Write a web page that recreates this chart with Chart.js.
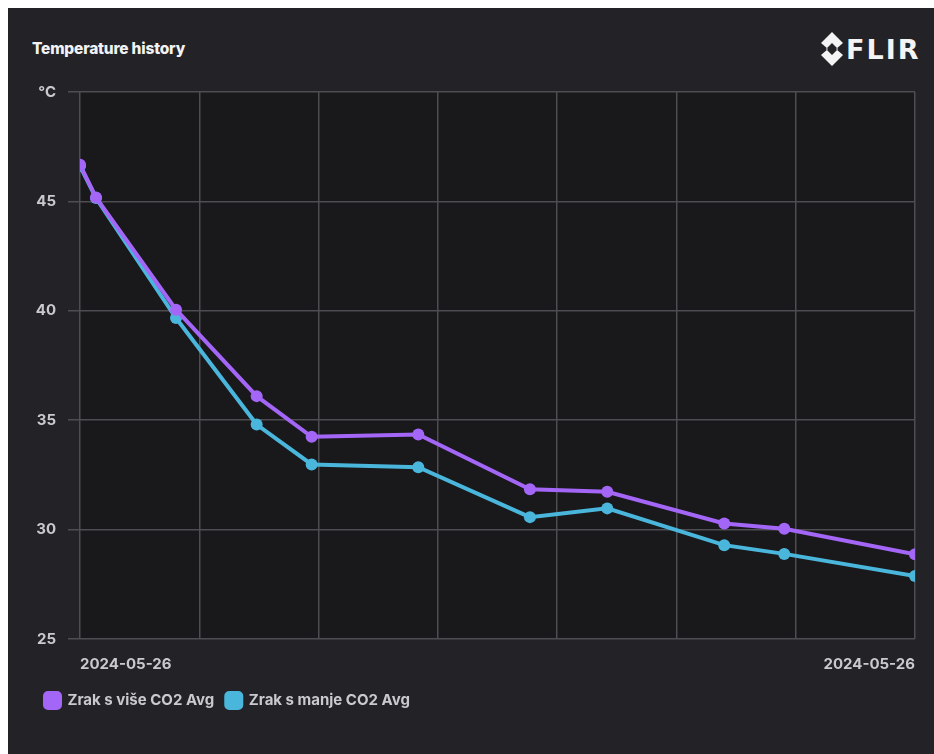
<!DOCTYPE html>
<html>
<head>
<meta charset="utf-8">
<script src="https://cdn.jsdelivr.net/npm/chart.js@4/dist/chart.umd.min.js"></script>
<style>
  html, body { margin: 0; padding: 0; background: #ffffff; width: 934px; height: 754px; overflow: hidden; }
  #card { position: absolute; left: 8px; top: 8px; width: 926px; height: 746px; background: #232327; }
  #title { position: absolute; left: 24px; top: 31px; color: #f2f2f4; font: 800 15.5px Inter, sans-serif; letter-spacing: -0.2px; }
  #logo { position: absolute; left: 813px; top: 23px; height: 36px; display: flex; align-items: center; }
  #logo span { color: #f4f4f4; font: 700 27px "DejaVu Sans", sans-serif; letter-spacing: 2px; margin-left: 3px; }
  #wrap { position: absolute; left: 0; top: 0; width: 926px; height: 746px; }
</style>
</head>
<body>
<div id="card">
  <div id="title">Temperature history</div>
  <div id="logo">
    <svg width="22" height="34" viewBox="0 0 22 34">
      <path d="M11 0 L22 11 L15 17 L22 23 L11 34 L0 23 L7 17 L0 11 Z M11 11 L5 17 L11 23 L17 17 Z" fill="#f4f4f4" fill-rule="evenodd"/>
    </svg>
    <span>FLIR</span>
  </div>
  <div id="wrap"><canvas id="c" width="926" height="746"></canvas></div>
</div>
<script>
// hours since first sample (all on 2024-05-26)
const hoursFromStart = [0, 0.134, 0.805, 1.481, 1.942, 2.836, 3.772, 4.420, 5.401, 5.904, 7];
const moreCO2 = [46.68, 45.18, 40.05, 36.10, 34.24, 34.35, 31.84, 31.73, 30.28, 30.04, 28.87];
const lessCO2 = [46.62, 45.15, 39.67, 34.80, 32.98, 32.85, 30.57, 30.97, 29.29, 28.89, 27.88];
const seriesNames = ["Zrak s više CO2 Avg", "Zrak s manje CO2 Avg"];
const dateLabel = "2024-05-26";
const yUnit = "°C";

const purple = "#a466f6";
const blue = "#4ab6dc";
const gridColor = "#4d4d52";
const textColor = "#c9c9ce";
const font = { family: "Inter, sans-serif", size: 15, weight: "700" };

const plotBg = {
  id: "plotBg",
  afterLayout(chart) {
    const lg = chart.legend;
    if (lg) { lg.top -= 8; lg.bottom -= 8; }
  },
  beforeDraw(chart) {
    const { ctx, chartArea: a } = chart;
    ctx.save();
    ctx.fillStyle = "#19181b";
    ctx.fillRect(a.left, a.top, a.right - a.left, a.bottom - a.top);
    ctx.restore();
  }
};

function toPoints(vals) { return vals.map((v, i) => ({ x: hoursFromStart[i], y: v })); }

new Chart(document.getElementById("c"), {
  type: "line",
  data: {
    datasets: [
      { label: seriesNames[0], data: toPoints(moreCO2), borderColor: purple, backgroundColor: purple,
        borderWidth: 4, pointRadius: 6, pointHoverRadius: 6, pointBorderWidth: 0, tension: 0 },
      { label: seriesNames[1], data: toPoints(lessCO2), borderColor: blue, backgroundColor: blue,
        borderWidth: 4, pointRadius: 6, pointHoverRadius: 6, pointBorderWidth: 0, tension: 0 }
    ]
  },
  options: {
    responsive: false,
    animation: false,
    clip: 0,
    layout: { padding: { left: 25, right: 19, top: 84, bottom: 28 } },
    plugins: {
      legend: {
        position: "bottom", align: "start",
        labels: { color: textColor, font: { family: "Inter, sans-serif", size: 15, weight: "700" },
          boxWidth: 15, boxHeight: 15, useBorderRadius: true, borderRadius: 3, padding: 12 }
      },
      tooltip: { enabled: false }
    },
    scales: {
      x: {
        type: "linear", min: 0, max: 7,
        ticks: { stepSize: 1, color: textColor, font, align: "inner", padding: 16, maxRotation: 0, autoSkip: false,
          callback: (v) => (v === 0 || v === 7) ? dateLabel : "" },
        grid: { color: gridColor, lineWidth: 1.5, drawTicks: false },
        border: { display: false }
      },
      y: {
        min: 25, max: 50,
        afterFit(s) { s.width = 47; },
        ticks: { stepSize: 5, color: textColor, font, padding: 12,
          callback: (v) => v === 50 ? yUnit : String(v) },
        grid: { color: gridColor, lineWidth: 1.5, tickLength: 12 },
        border: { display: false }
      }
    }
  },
  plugins: [plotBg]
});
</script>
</body>
</html>
